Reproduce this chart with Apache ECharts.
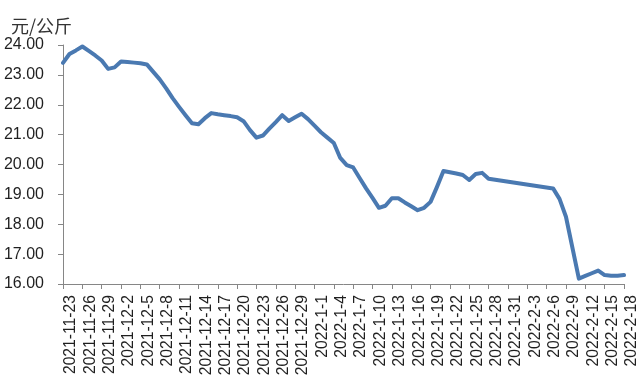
<!DOCTYPE html>
<html>
<head>
<meta charset="utf-8">
<script src="https://cdn.jsdelivr.net/npm/echarts@6/dist/echarts.min.js"></script>
<style>html,body{margin:0;padding:0;background:#fff}#c{width:640px;height:385px}</style>
</head>
<body>
<div id="c"></div>
<script>
var unitLabel = '元/公斤';
var categories = [
 '2021-11-23','2021-11-24','2021-11-25','2021-11-26','2021-11-27','2021-11-28','2021-11-29','2021-11-30',
 '2021-12-1','2021-12-2','2021-12-3','2021-12-4','2021-12-5','2021-12-6','2021-12-7','2021-12-8','2021-12-9','2021-12-10',
 '2021-12-11','2021-12-12','2021-12-13','2021-12-14','2021-12-15','2021-12-16','2021-12-17','2021-12-18','2021-12-19','2021-12-20',
 '2021-12-21','2021-12-22','2021-12-23','2021-12-24','2021-12-25','2021-12-26','2021-12-27','2021-12-28','2021-12-29','2021-12-30','2021-12-31',
 '2022-1-1','2022-1-2','2022-1-3','2022-1-4','2022-1-5','2022-1-6','2022-1-7','2022-1-8','2022-1-9','2022-1-10',
 '2022-1-11','2022-1-12','2022-1-13','2022-1-14','2022-1-15','2022-1-16','2022-1-17','2022-1-18','2022-1-19','2022-1-20',
 '2022-1-21','2022-1-22','2022-1-23','2022-1-24','2022-1-25','2022-1-26','2022-1-27','2022-1-28','2022-1-29','2022-1-30','2022-1-31',
 '2022-2-1','2022-2-2','2022-2-3','2022-2-4','2022-2-5','2022-2-6','2022-2-7','2022-2-8','2022-2-9','2022-2-10',
 '2022-2-11','2022-2-12','2022-2-13','2022-2-14','2022-2-15','2022-2-16','2022-2-17','2022-2-18'
];
var prices = [
 23.40,23.70,23.82,23.95,23.80,23.65,23.48,23.20,
 23.25,23.45,23.43,23.41,23.39,23.35,23.10,22.85,22.55,22.22,
 21.93,21.65,21.38,21.35,21.55,21.72,21.68,21.65,21.62,21.58,
 21.45,21.15,20.90,20.97,21.20,21.42,21.65,21.46,21.58,21.70,21.52,
 21.30,21.08,20.90,20.72,20.22,19.98,19.90,19.55,19.20,18.88,
 18.55,18.62,18.87,18.87,18.73,18.60,18.47,18.55,18.75,19.25,
 19.78,19.74,19.70,19.65,19.48,19.68,19.72,19.52,null,null,null,
 null,null,null,null,null,null,19.20,18.85,18.25,null,
 16.18,16.27,16.36,16.45,16.30,16.28,16.28,16.30
];
var yTicks = {min: 16, max: 24, step: 1};

var chart = echarts.init(document.getElementById('c'), null, {renderer: 'canvas'});
chart.setOption({
  animation: false,
  backgroundColor: '#ffffff',
  title: {
    text: unitLabel, left: 6, top: 12,
    textStyle: {fontFamily: 'Noto Sans CJK SC', fontSize: 18, fontWeight: 'normal', color: '#333333'}
  },
  grid: {left: 63, right: 15, top: 45, bottom: 101, containLabel: false},
  xAxis: {
    type: 'category',
    data: categories,
    boundaryGap: false,
    axisLine: {lineStyle: {color: '#868686', width: 1}},
    axisTick: {show: true, interval: 2, length: 5, inside: false, lineStyle: {color: '#868686'}},
    axisLabel: {
      interval: 2, rotate: 90, margin: 11, verticalAlign: 'top',
      fontFamily: 'Liberation Sans', fontSize: 15.7, color: '#1f1f1f'
    },
    splitLine: {show: false}
  },
  yAxis: {
    type: 'value',
    min: yTicks.min, max: yTicks.max, interval: yTicks.step,
    axisLine: {show: true, lineStyle: {color: '#868686', width: 1}},
    axisTick: {show: true, length: 5, lineStyle: {color: '#868686'}},
    axisLabel: {
      margin: 19, fontFamily: 'Liberation Sans', fontSize: 16, color: '#1f1f1f',
      formatter: function (v) { return v.toFixed(2); }
    },
    splitLine: {show: false}
  },
  series: [{
    type: 'line',
    data: prices,
    connectNulls: true,
    showSymbol: false,
    symbol: 'none',
    lineStyle: {color: '#4a79b1', width: 4, cap: 'round', join: 'round'},
    itemStyle: {color: '#4a79b1'}
  }]
});
</script>
</body>
</html>
